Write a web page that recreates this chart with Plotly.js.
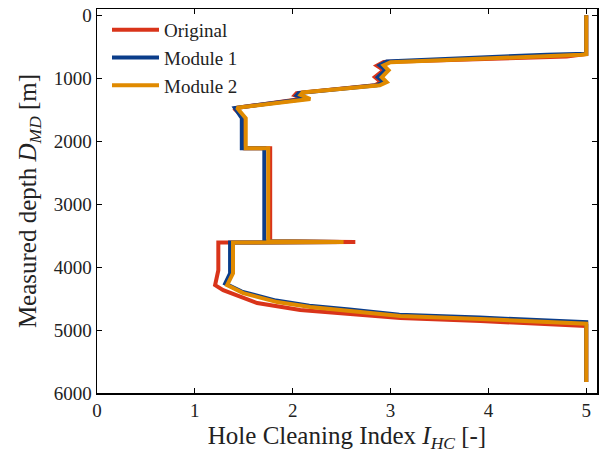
<!DOCTYPE html>
<html>
<head>
<meta charset="utf-8">
<script src="https://cdn.plot.ly/plotly-3.0.1.min.js"></script>
<style>html,body{margin:0;padding:0;background:#fff;}#chart{width:602px;height:457px;}</style>
</head>
<body>
<div id="chart"></div>
<script>
const seriesNames = ["Original", "Module 1", "Module 2"];
const seriesColors = ["#d9341a", "#0b3d8a", "#e08a00"];

const originalDepth = [0, 615, 655, 740, 800, 870, 980, 1060, 1110, 1235, 1270, 1320, 1476, 1640, 2111, 2111, 3590, 3600, 3610, 4050, 4286, 4365, 4571, 4683, 4746, 4810, 4857, 4921, 4935, 5825];
const originalIHC   = [5.0, 5.0, 4.8, 2.93, 2.86, 2.93, 2.84, 2.9, 2.84, 2.04, 2.02, 2.12, 1.40, 1.51, 1.51, 1.77, 1.77, 2.64, 1.24, 1.24, 1.207, 1.29, 1.637, 2.077, 2.588, 3.10, 3.92, 4.94, 5.0, 5.0];

const module1Depth = [0, 610, 625, 735, 795, 870, 982, 1060, 1110, 1235, 1270, 1325, 1472, 1635, 2111, 2111, 3590, 3600, 3610, 4100, 4260, 4390, 4532, 4612, 4675, 4755, 4802, 4866, 4875, 5825];
const module1IHC   = [5.0, 5.0, 4.6, 2.96, 2.89, 2.95, 2.87, 2.93, 2.86, 2.06, 2.04, 2.14, 1.41, 1.48, 1.48, 1.71, 1.71, 2.5, 1.36, 1.36, 1.31, 1.48, 1.83, 2.17, 2.58, 3.09, 3.91, 4.94, 5.0, 5.0];

const module2Depth = [0, 620, 628, 745, 794, 873, 984, 1063, 1111, 1225, 1265, 1330, 1470, 1635, 2111, 2111, 3590, 3600, 3610, 4100, 4286, 4413, 4556, 4635, 4698, 4778, 4825, 4889, 4898, 5825];
const module2IHC   = [5.0, 5.0, 4.95, 3.0, 2.93, 2.98, 2.91, 2.96, 2.89, 2.1, 2.08, 2.18, 1.43, 1.52, 1.52, 1.75, 1.75, 2.52, 1.39, 1.39, 1.33, 1.494, 1.841, 2.179, 2.588, 3.10, 3.92, 4.94, 5.0, 5.0];

const xTicks = [0, 1, 2, 3, 4, 5];
const yTicks = [0, 1000, 2000, 3000, 4000, 5000, 6000];

const xs = [originalIHC, module1IHC, module2IHC];
const ys = [originalDepth, module1Depth, module2Depth];

const FONT = "Liberation Serif, DejaVu Serif, serif";
const traces = seriesNames.map((n, i) => ({
  type: "scatter", mode: "lines", name: n,
  x: xs[i], y: ys[i],
  line: {color: seriesColors[i], width: 4, shape: "linear"}
}));

const axisCommon = {
  showgrid: false, zeroline: false,
  showline: true, linecolor: "#000", linewidth: 1.5, mirror: "ticks",
  ticks: "inside", ticklen: 5, tickwidth: 1, tickcolor: "#000",
  tickfont: {family: FONT, size: 19, color: "#222"}
};

const layout = {
  width: 602, height: 457,
  margin: {l: 97, r: 5, t: 9, b: 64},
  paper_bgcolor: "#fff", plot_bgcolor: "#fff",
  font: {family: FONT, color: "#222"},
  showlegend: true,
  legend: {x: 0.02, y: 0.995, xanchor: "left", yanchor: "top", bgcolor: "rgba(0,0,0,0)",
           itemwidth: 47,
           font: {family: FONT, size: 19, color: "#222"}, tracegroupgap: 0},
  xaxis: Object.assign({}, axisCommon, {
    range: [0, 5.11], tickvals: xTicks,
    title: {text: "Hole Cleaning Index <i>I</i><sub><i>HC</i></sub> [-]", font: {family: FONT, size: 25, color: "#222"}, standoff: 6}
  }),
  yaxis: Object.assign({}, axisCommon, {
    range: [6000, -100], tickvals: yTicks,
    title: {text: "Measured depth <i>D</i><sub><i>MD</i></sub> [m]", font: {family: FONT, size: 25, color: "#222"}, standoff: 10}
  })
};

Plotly.newPlot("chart", traces, layout, {displayModeBar: false, staticPlot: true});
</script>
</body>
</html>
